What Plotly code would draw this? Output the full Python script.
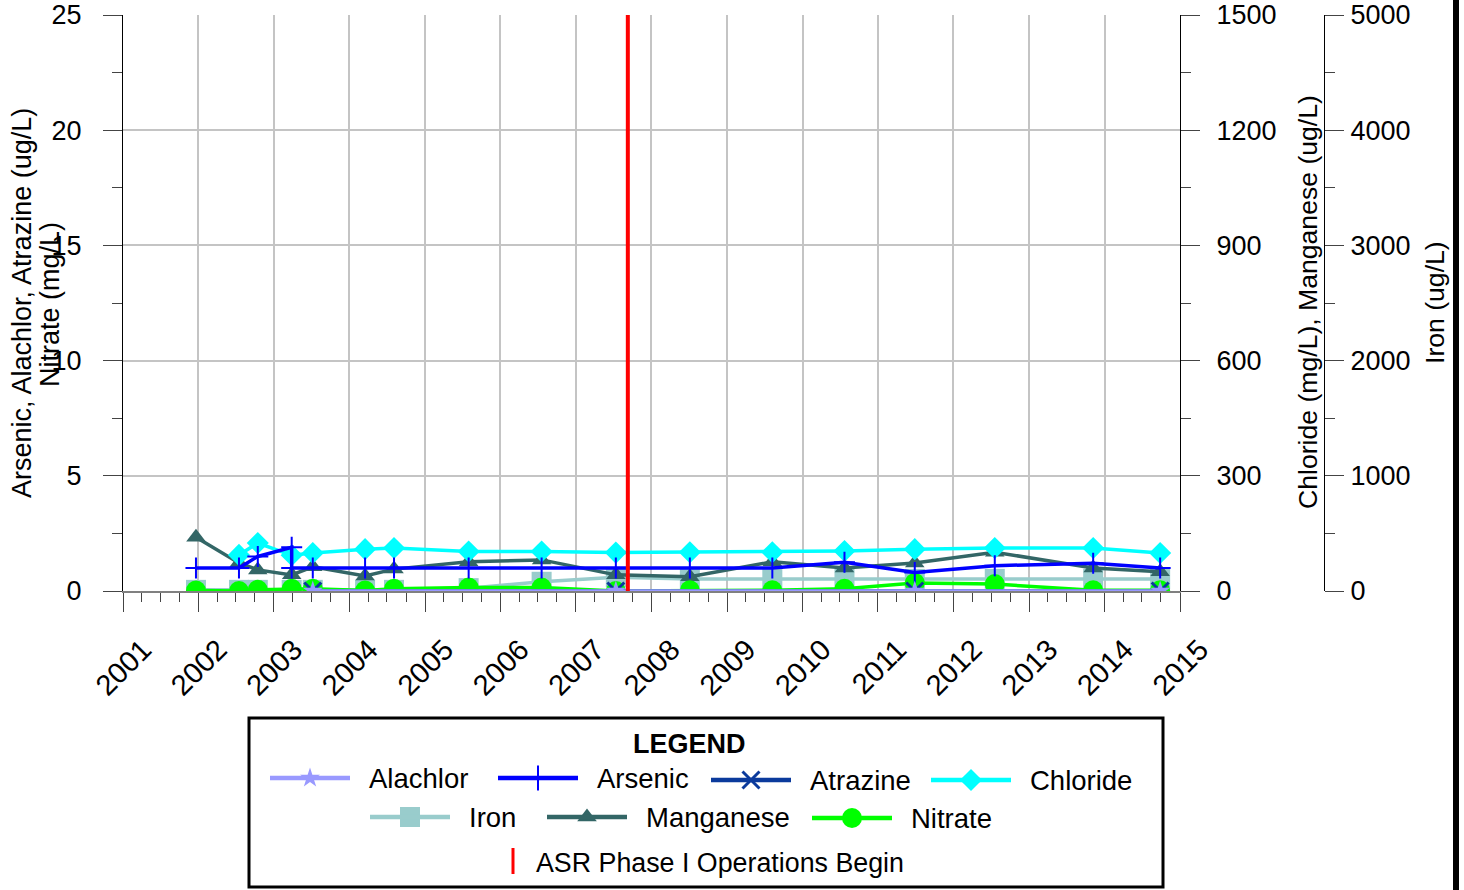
import plotly.graph_objects as go

# ---------------- data ----------------
dates = ["2001-12-20", "2002-07-16", "2002-10-15", "2003-03-28", "2003-07-08",
         "2004-03-17", "2004-08-04", "2005-07-31", "2006-07-19", "2007-07-13",
         "2008-07-05", "2009-08-08", "2010-07-23", "2011-06-28", "2012-07-19",
         "2013-11-07", "2014-09-27"]

arsenic_dates = ["2001-12-20", "2002-07-16", "2002-10-15", "2003-03-28", "2003-03-28",
                 "2003-07-08", "2004-03-17", "2004-08-04", "2005-07-31", "2006-07-19",
                 "2007-07-13", "2008-07-05", "2009-08-08", "2010-07-23", "2011-06-28",
                 "2012-07-19", "2013-11-07", "2014-09-27"]
arsenic = [1.0, 1.0, 1.5, 1.9, 1.0, 1.0, 1.0, 1.0, 1.0, 1.0, 1.0, 1.0, 1.0, 1.25, 0.8, 1.1, 1.2, 1.0]

pest_dates = ["2003-07-08", "2007-07-13", "2011-06-28", "2014-09-27"]
alachlor = [0, 0, 0, 0]
atrazine = [0, 0, 0, 0]

chloride_dates = dates[1:]
chloride = [94, 125, 93, 99, 109, 112, 103, 103, 100, 101, 101, 104, 109, 112, 112, 99]

iron = [10, 10, 10, 10, 10, 10, 10, 25, 80, 120, 105, 105, 105, 105, 105, 105, 105]
manganese = [140, 73, 55, 42, 63, 39, 57, 76, 81, 42, 37, 76, 60, 73, 101, 60, 50]
nitrate = [0.02, 0.0, 0.05, 0.1, 0.1, 0.02, 0.1, 0.15, 0.15, 0.0, 0.03, 0.03, 0.1, 0.35, 0.3, 0.03, 0.03]

asr_start = "2007-09-09"

year_ticks = [str(y) for y in range(2001, 2016)]

# ---------------- styling ----------------
W, H = 1464, 890
FONT = "Liberation Sans, Arial, sans-serif"
C_ALA = "#9999FF"
C_ARS = "#0000FF"
C_ATR = "#0B3A9C"
C_CHL = "#00FFFF"
C_IRN = "#99CCCC"
C_MAN = "#336666"
C_NIT = "#00FF00"
C_RED = "#FF0000"
GRID = "#C4C4C4"
TICKC = "#444444"
LEG_FS = 27.5

def px_x(p):
    return p / W

def px_y(p):
    return 1 - p / H

fig = go.Figure()

# iron on base axis (drawn first / bottom)
fig.add_trace(go.Scatter(x=dates, y=iron, mode="lines+markers", name="Iron",
                         line=dict(color=C_IRN, width=3.5),
                         marker=dict(symbol="square", size=20, color=C_IRN),
                         xaxis="x", yaxis="y"))
fig.add_trace(go.Scatter(x=dates, y=manganese, mode="lines+markers", name="Manganese",
                         line=dict(color=C_MAN, width=3.5),
                         marker=dict(symbol="triangle-up", size=17, color=C_MAN),
                         xaxis="x", yaxis="y2"))
fig.add_trace(go.Scatter(x=chloride_dates, y=chloride, mode="lines+markers", name="Chloride",
                         line=dict(color=C_CHL, width=3.5),
                         marker=dict(symbol="diamond", size=17, color=C_CHL),
                         xaxis="x", yaxis="y2"))
fig.add_trace(go.Scatter(x=dates, y=nitrate, mode="lines+markers", name="Nitrate",
                         line=dict(color=C_NIT, width=3.5),
                         marker=dict(symbol="circle", size=20, color=C_NIT),
                         xaxis="x", yaxis="y3"))
fig.add_trace(go.Scatter(x=arsenic_dates, y=arsenic, mode="lines+markers", name="Arsenic",
                         line=dict(color=C_ARS, width=3.5),
                         marker=dict(symbol="cross-thin-open", size=15, color=C_ARS,
                                     line=dict(color=C_ARS, width=2)),
                         xaxis="x", yaxis="y3"))
fig.add_trace(go.Scatter(x=pest_dates, y=atrazine, mode="lines+markers", name="Atrazine",
                         line=dict(color=C_ATR, width=3.5),
                         marker=dict(symbol="x-thin-open", size=17, color=C_ATR,
                                     line=dict(color=C_ATR, width=3)),
                         xaxis="x", yaxis="y3"))
fig.add_trace(go.Scatter(x=pest_dates, y=alachlor, mode="lines+markers", name="Alachlor",
                         line=dict(color=C_ALA, width=3.5),
                         marker=dict(symbol="star", size=15, color=C_ALA),
                         xaxis="x", yaxis="y3"))
fig.add_trace(go.Scatter(x=[asr_start, asr_start], y=[0, 25], mode="lines",
                         name="ASR Phase I Operations Begin",
                         line=dict(color=C_RED, width=4),
                         xaxis="x", yaxis="y3"))

# ---------------- legend (manual, pixel coords on aux axes) ----------------
legend_items = [
    ("Alachlor", C_ALA, dict(symbol="star", size=15, color=C_ALA), 270, 778),
    ("Arsenic", C_ARS, dict(symbol="cross-thin-open", size=18, color=C_ARS,
                            line=dict(color=C_ARS, width=2)), 498, 778),
    ("Atrazine", C_ATR, dict(symbol="x-thin-open", size=17, color=C_ATR,
                             line=dict(color=C_ATR, width=3)), 711, 780),
    ("Chloride", C_CHL, dict(symbol="diamond", size=17, color=C_CHL), 931, 780),
    ("Iron", C_IRN, dict(symbol="square", size=20, color=C_IRN), 370, 817),
    ("Manganese", C_MAN, dict(symbol="triangle-up", size=17, color=C_MAN), 547, 817),
    ("Nitrate", C_NIT, dict(symbol="circle", size=20, color=C_NIT), 812, 818),
]

shapes = []
annotations = []
for name, col, mk, x0, yy in legend_items:
    shapes.append(dict(type="line", xref="x4", yref="y4", x0=x0, x1=x0 + 80, y0=yy, y1=yy,
                       line=dict(color=col, width=4.5)))
    fig.add_trace(go.Scatter(x=[x0 + 40], y=[yy], mode="markers", marker=mk,
                             xaxis="x4", yaxis="y4", cliponaxis=False, hoverinfo="skip"))
    annotations.append(dict(xref="x4", yref="y4", x=x0 + 97, y=yy, text=name, showarrow=False,
                            xanchor="left", yanchor="middle",
                            font=dict(family=FONT, size=LEG_FS, color="black")))

shapes.append(dict(type="line", xref="x4", yref="y4", x0=513, x1=513, y0=848, y1=874,
                   line=dict(color=C_RED, width=3)))
annotations.append(dict(xref="x4", yref="y4", x=534, y=863, text="ASR Phase I Operations Begin",
                        showarrow=False, xanchor="left", yanchor="middle",
                        font=dict(family=FONT, size=26.8, color="black")))
annotations.append(dict(xref="x4", yref="y4", x=689, y=744, text="<b>LEGEND</b>",
                        showarrow=False, xanchor="center", yanchor="middle",
                        font=dict(family=FONT, size=27, color="black")))
# legend frame
shapes.append(dict(type="rect", xref="x4", yref="y4", x0=249, x1=1163, y0=718, y1=887,
                   line=dict(color="black", width=3), fillcolor="rgba(0,0,0,0)"))
# black border bar at right edge
shapes.append(dict(type="rect", xref="x4", yref="y4", x0=1453, x1=1459, y0=0, y1=890,
                   line=dict(width=0), fillcolor="black"))

# axis titles
for txt, xx, yy, fs in [("Arsenic, Alachlor, Atrazine (ug/L)", 22, 303, 27),
                        ("Nitrate (mg/L)", 50, 305, 27),
                        ("Chloride (mg/L), Manganese (ug/L)", 1308, 302, 26.6),
                        ("Iron (ug/L)", 1435, 303, 26.6)]:
    annotations.append(dict(xref="x4", yref="y4", x=xx, y=yy, text=txt, showarrow=False,
                            textangle=-90, xanchor="center", yanchor="middle",
                            font=dict(family=FONT, size=fs, color="black")))

ytickfont = dict(family=FONT, size=27, color="black")
xtickfont = dict(family=FONT, size=29, color="black")
ydom = [px_y(591), px_y(15)]

fig.update_layout(
    template="none",
    width=W, height=H, autosize=False,
    margin=dict(l=0, r=0, t=0, b=0, pad=0, autoexpand=False),
    paper_bgcolor="white", plot_bgcolor="rgba(0,0,0,0)",
    showlegend=False,
    font=dict(family=FONT, size=26, color="black"),
    shapes=shapes, annotations=annotations,
    xaxis=dict(type="date", domain=[px_x(123), px_x(1180)],
               range=["2001-01-01", "2015-01-01"],
               tickmode="array",
               tickvals=[y + "-01-01" for y in year_ticks], ticktext=year_ticks,
               tickangle=-45, ticks="outside", ticklen=19, tickcolor=TICKC, tickwidth=1,
               tickfont=xtickfont, ticklabelshift=20, ticklabelstandoff=9,
               showgrid=True, gridcolor=GRID, gridwidth=2,
               minor=dict(dtick="M3", tick0="2001-01-01", ticks="outside", ticklen=9,
                          tickcolor=TICKC, showgrid=False),
               showline=True, linecolor="#808080", linewidth=2,
               anchor="y", zeroline=False, automargin=False),
    yaxis=dict(domain=ydom, range=[0, 5000], dtick=1000, tick0=0,
               side="right", anchor="free", position=px_x(1324),
               ticks="outside", ticklen=19, tickcolor=TICKC, tickwidth=1,
               minor=dict(dtick=500, ticks="outside", ticklen=10, tickcolor=TICKC, showgrid=False),
               showline=True, linecolor="black", linewidth=1,
               showgrid=True, gridcolor=GRID, gridwidth=2, zeroline=False,
               tickfont=ytickfont, ticklabelstandoff=1, automargin=False),
    yaxis2=dict(overlaying="y", range=[0, 1500], dtick=300, tick0=0,
                side="right", anchor="x",
                ticks="outside", ticklen=19, tickcolor=TICKC, tickwidth=1,
                minor=dict(dtick=150, ticks="outside", ticklen=10, tickcolor=TICKC, showgrid=False),
                showline=True, linecolor="black", linewidth=1,
                showgrid=False, zeroline=False,
                tickfont=ytickfont, ticklabelstandoff=11, automargin=False),
    yaxis3=dict(overlaying="y", range=[0, 25], dtick=5, tick0=0,
                side="left", anchor="x",
                ticks="outside", ticklen=19, tickcolor=TICKC, tickwidth=1,
                minor=dict(dtick=2.5, ticks="outside", ticklen=10, tickcolor=TICKC, showgrid=False),
                showline=True, linecolor="black", linewidth=1,
                showgrid=False, zeroline=False,
                tickfont=ytickfont, ticklabelstandoff=16, automargin=False),
    xaxis4=dict(domain=[0, 1], range=[0, W], visible=False, fixedrange=True, anchor="y4",
                automargin=False),
    yaxis4=dict(domain=[0, 1], range=[H, 0], visible=False, fixedrange=True, anchor="x4",
                automargin=False),
)

fig.write_html("out.html", config={"displayModeBar": False},
               post_script="document.body.style.margin='0';")
